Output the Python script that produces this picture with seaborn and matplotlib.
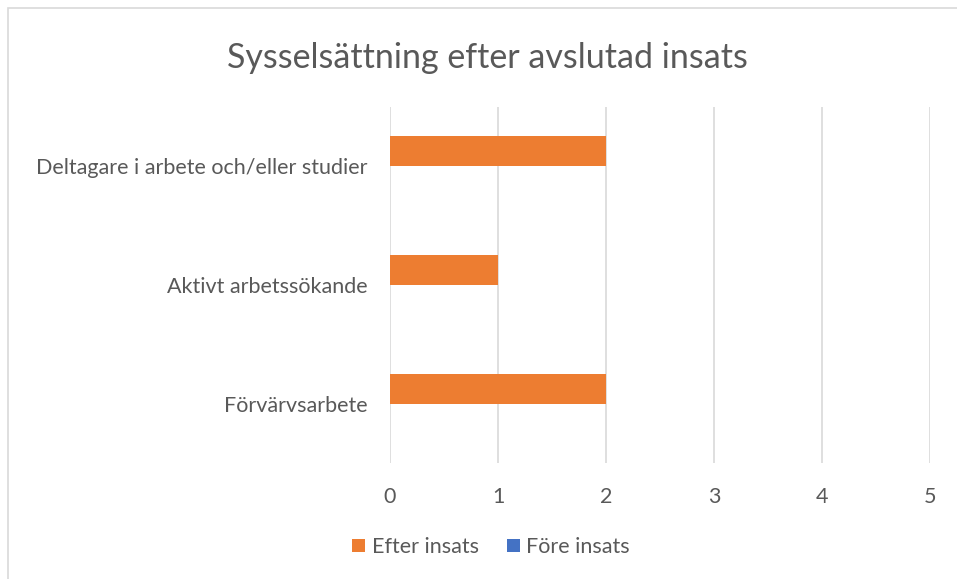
import pandas as pd
import matplotlib.pyplot as plt
import seaborn as sns
from matplotlib.patches import Rectangle

# Data
categories = ["Deltagare i arbete och/eller studier", "Aktivt arbetssökande", "Förvärvsarbete"]
efter_insats = [2, 1, 2]
fore_insats = [0, 0, 0]
series_names = ["Efter insats", "Före insats"]
x_ticks = [0, 1, 2, 3, 4, 5]

df = pd.DataFrame({
    "kategori": categories * 2,
    "serie": [series_names[0]] * 3 + [series_names[1]] * 3,
    "antal": efter_insats + fore_insats,
})

sns.set_style("white")
plt.rcParams["font.family"] = ["Lato", "DejaVu Sans"]

fig = plt.figure(figsize=(9.57, 5.79), dpi=100)
ax = fig.add_axes([0.4075, 0.1995, 0.5643, 0.6165])

palette = {"Efter insats": "#ED7D31", "Före insats": "#4472C4"}
sns.barplot(data=df, x="antal", y="kategori", hue="serie", order=categories,
            hue_order=series_names, palette=palette, orient="h", width=0.5,
            saturation=1, linewidth=0, ax=ax, legend=True)

ax.set_xlim(0, 5)
ax.set_xticks(x_ticks)
ax.grid(axis="x", color="#D9D9D9", linewidth=1.2)
ax.set_axisbelow(True)
for s in ax.spines.values():
    s.set_visible(False)
ax.set_xlabel("")
ax.set_ylabel("")
ax.tick_params(axis="x", length=0, pad=17, labelsize=15.5, labelcolor="#595959")
ax.tick_params(axis="y", length=0, pad=16, labelsize=15.5, labelcolor="#595959")

handles, labels = ax.get_legend_handles_labels()
ax.get_legend().remove()
fig.legend(handles, labels, loc="center", bbox_to_anchor=(0.513, 0.055), ncol=2,
           frameon=False, fontsize=15.5, labelcolor="#595959", handlelength=0.6,
           handleheight=0.6, handletextpad=0.3, columnspacing=1.3)

fig.text(0.509, 0.9, "Sysselsättning efter avslutad insats", ha="center", va="center",
         fontsize=24.5, color="#595959")

# chart frame
fig.patches.append(Rectangle((8 / 957, -0.1), 1.2, 1 - 8 / 579 + 0.1, transform=fig.transFigure,
                             fill=False, edgecolor="#D9D9D9", linewidth=1.2))

fig.savefig("out.png", dpi=100)
